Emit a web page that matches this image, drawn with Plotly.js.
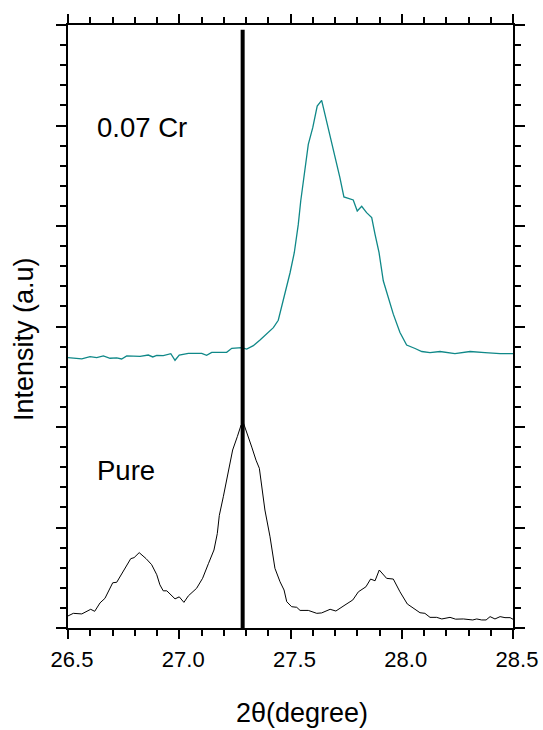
<!DOCTYPE html>
<html>
<head>
<meta charset="utf-8">
<script src="https://cdn.plot.ly/plotly-3.0.1.min.js"></script>
<style>html,body{margin:0;padding:0;background:#fff;}#chart{width:543px;height:730px;}</style>
</head>
<body>
<div id="chart"></div>
<script>
// Pure sample (black)
const pureTheta = [26.500,26.524,26.562,26.602,26.620,26.644,26.666,26.701,26.719,26.746,26.782,26.797,26.820,26.851,26.876,26.899,26.913,26.928,26.944,26.981,27.000,27.021,27.041,27.078,27.105,27.131,27.156,27.171,27.180,27.198,27.220,27.240,27.261,27.278,27.288,27.306,27.326,27.345,27.360,27.385,27.408,27.430,27.453,27.471,27.483,27.505,27.528,27.543,27.580,27.618,27.640,27.678,27.704,27.745,27.780,27.805,27.839,27.860,27.880,27.899,27.932,27.962,27.992,28.025,28.052,28.082,28.104,28.127,28.157,28.180,28.217,28.242,28.277,28.319,28.337,28.359,28.379,28.397,28.419,28.442,28.464,28.487,28.500];
const pureInt = [0.12,0.146,0.14,0.186,0.166,0.25,0.295,0.45,0.455,0.55,0.69,0.70,0.75,0.69,0.63,0.53,0.43,0.37,0.37,0.29,0.31,0.255,0.32,0.395,0.495,0.64,0.776,0.94,1.12,1.306,1.555,1.771,1.904,2.02,2.043,1.937,1.80,1.67,1.589,1.174,0.908,0.594,0.46,0.378,0.262,0.212,0.206,0.175,0.175,0.146,0.15,0.186,0.169,0.229,0.279,0.36,0.41,0.487,0.47,0.577,0.494,0.487,0.36,0.239,0.196,0.152,0.146,0.106,0.106,0.09,0.106,0.088,0.09,0.08,0.09,0.08,0.08,0.113,0.09,0.113,0.103,0.103,0.087];

// 0.07 Cr sample (teal, offset)
const crTheta = [26.500,26.531,26.562,26.599,26.629,26.659,26.689,26.719,26.741,26.764,26.824,26.861,26.881,26.899,26.928,26.962,26.981,27.000,27.041,27.101,27.123,27.146,27.213,27.236,27.281,27.303,27.333,27.363,27.378,27.400,27.423,27.445,27.475,27.498,27.517,27.535,27.546,27.561,27.580,27.600,27.620,27.640,27.655,27.678,27.704,27.722,27.740,27.763,27.782,27.800,27.820,27.842,27.865,27.880,27.898,27.917,27.940,27.962,27.992,28.022,28.060,28.090,28.127,28.172,28.239,28.307,28.374,28.442,28.500];
const crInt = [2.69,2.684,2.677,2.700,2.690,2.707,2.684,2.687,2.677,2.707,2.703,2.716,2.697,2.713,2.710,2.730,2.664,2.716,2.733,2.733,2.713,2.743,2.743,2.783,2.789,2.776,2.809,2.866,2.896,2.942,2.989,3.062,3.320,3.535,3.734,4.016,4.249,4.514,4.813,4.978,5.194,5.250,5.111,4.912,4.647,4.481,4.289,4.276,4.259,4.149,4.196,4.133,4.083,3.917,3.734,3.455,3.289,3.123,2.94,2.815,2.781,2.751,2.741,2.751,2.731,2.751,2.741,2.731,2.731];

const refPosition = 27.285;
const xTickVals = [26.5, 27.0, 27.5, 28.0, 28.5];
const xTickText = ["26.5", "27.0", "27.5", "28.0", "28.5"];
const sampleLabels = ["0.07 Cr", "Pure"];

const FONT = "Liberation Sans, Arial, Helvetica, sans-serif";

const traces = [
  {x: pureTheta, y: pureInt, type: "scatter", mode: "lines", line: {color: "#000000", width: 1}, showlegend: false, hoverinfo: "skip"},
  {x: crTheta, y: crInt, type: "scatter", mode: "lines", line: {color: "#0f8888", width: 1.3}, showlegend: false, hoverinfo: "skip"}
];

const layout = {
  width: 543, height: 730,
  margin: {l: 68, r: 30, t: 25, b: 102},
  paper_bgcolor: "#ffffff", plot_bgcolor: "#ffffff",
  font: {family: FONT, color: "#000000"},
  xaxis: {
    range: [26.5, 28.5], showgrid: false, zeroline: false,
    showline: true, linecolor: "#000", linewidth: 2, mirror: "allticks",
    ticks: "outside", ticklen: 9, tickwidth: 2, tickcolor: "#000",
    tickvals: xTickVals, ticktext: xTickText,
    tickfont: {size: 22, family: FONT, color: "#000"},
    ticklabelshift: 4, ticklabelstandoff: 2,
    minor: {dtick: 0.1, ticks: "outside", ticklen: 6, tickwidth: 2, tickcolor: "#000", showgrid: false}
  },
  yaxis: {
    range: [0, 6], showgrid: false, zeroline: false,
    showline: true, linecolor: "#000", linewidth: 2, mirror: "allticks",
    ticks: "outside", ticklen: 10, tickwidth: 2, tickcolor: "#000",
    dtick: 1, tick0: 0, showticklabels: false,
    minor: {dtick: 0.2, ticks: "outside", ticklen: 6, tickwidth: 2, tickcolor: "#000", showgrid: false}
  },
  shapes: [
    {type: "line", xref: "x", yref: "paper", x0: refPosition, x1: refPosition, y0: 0, y1: 0.992, line: {color: "#000", width: 4}}
  ],
  annotations: [
    {text: sampleLabels[0], xref: "paper", yref: "paper", x: (95 - 68) / 445, y: (628 - 127) / 603, xanchor: "left", yanchor: "middle", showarrow: false, font: {size: 27.5, family: FONT, color: "#000"}},
    {text: sampleLabels[1], xref: "paper", yref: "paper", x: (95 - 68) / 445, y: (628 - 470) / 603, xanchor: "left", yanchor: "middle", showarrow: false, font: {size: 27.5, family: FONT, color: "#000"}},
    {text: "2θ(degree)", xref: "paper", yref: "paper", x: (302 - 68) / 445, y: (628 - 713) / 603, xanchor: "center", yanchor: "middle", showarrow: false, font: {size: 27, family: FONT, color: "#000"}},
    {text: "Intensity (a.u)", xref: "paper", yref: "paper", x: (24 - 68) / 445, y: (628 - 339) / 603, xanchor: "center", yanchor: "middle", textangle: -90, showarrow: false, font: {size: 27, family: FONT, color: "#000"}}
  ]
};

Plotly.newPlot("chart", traces, layout, {displayModeBar: false, staticPlot: true});
</script>
</body>
</html>
